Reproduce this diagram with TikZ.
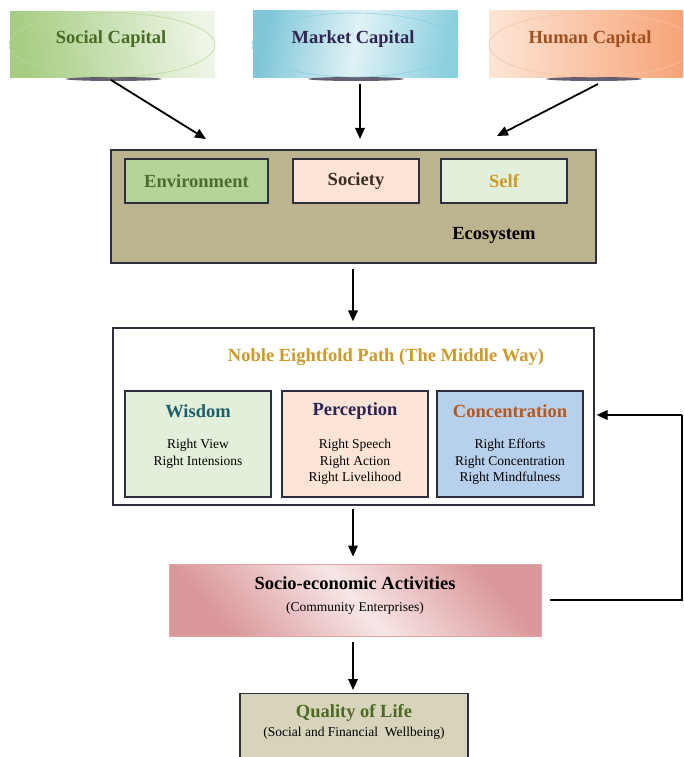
\documentclass[tikz,border=0pt]{standalone}
\usepackage{fontspec}
\setmainfont{Liberation Serif}
\usetikzlibrary{arrows.meta,shapes.geometric}
\definecolor{scA}{HTML}{A6CD82}\definecolor{scB}{HTML}{EEF5E6}\definecolor{scE}{HTML}{B9D99C}\definecolor{scT}{HTML}{4A6B25}
\definecolor{mcA}{HTML}{7EC6D8}\definecolor{mcB}{HTML}{E0F2F6}\definecolor{mcE}{HTML}{8CCFDF}\definecolor{mcT}{HTML}{2E2550}
\definecolor{hcA}{HTML}{FDE5D6}\definecolor{hcB}{HTML}{F6A072}\definecolor{hcE}{HTML}{F9C3A3}\definecolor{hcT}{HTML}{A0501F}
\definecolor{ecoF}{HTML}{BBB48F}\definecolor{envF}{HTML}{B5D49A}\definecolor{socF}{HTML}{FDE4D5}\definecolor{selfF}{HTML}{E2EFDA}
\definecolor{envT}{HTML}{4E6B2A}\definecolor{socT}{HTML}{3A2E25}\definecolor{gold}{HTML}{CC9A2A}
\definecolor{wisT}{HTML}{1D5E6B}\definecolor{perT}{HTML}{2D2456}\definecolor{conT}{HTML}{B4581E}
\definecolor{wisF}{HTML}{E2EFDA}\definecolor{perF}{HTML}{FCE4D6}\definecolor{conF}{HTML}{B7D0EC}
\definecolor{pinkD}{HTML}{DA979A}\definecolor{pinkL}{HTML}{F8E6E6}\definecolor{pinkE}{HTML}{E4A3A5}
\definecolor{qolF}{HTML}{D8D4BB}\definecolor{qolT}{HTML}{4C6A22}\definecolor{edge}{HTML}{2E2F3C}
\definecolor{shad}{HTML}{4A4458}
\tikzset{
  arr/.style={line width=1.8pt,-{Triangle[length=11pt,width=9.5pt]}},
  boxx/.style={draw=edge,line width=1.2pt,rectangle,inner sep=0pt},
  btitle/.style={font=\bfseries\fontsize{18.5}{20}\selectfont,inner sep=0pt},
  btxt/.style={font=\fontsize{13.5}{16.5}\selectfont,align=center,inner sep=0pt},
  topell/.style={ellipse,draw,line width=0.6pt,minimum width=206pt,minimum height=64pt,inner sep=0pt},
  shadowbar/.style={fill=shad,opacity=0.85}
}
\begin{document}
\begin{tikzpicture}[x=1pt,y=-1pt]
\useasboundingbox (0,0) rectangle (683,757);
\clip (0,0) rectangle (683,757);
% top capital boxes
\shade[left color=scA,right color=scB,shading angle=100] (10,12) rectangle (215,78);
\shade[left color=mcA,right color=mcE,middle color=mcB,shading angle=80] (253,11) rectangle (458,78);
\shade[left color=hcA,right color=hcB,shading angle=90] (489,11) rectangle (694,78);
\fill[shadowbar] (113.5,79) ellipse (48pt and 2pt);
\fill[shadowbar] (356,79) ellipse (48pt and 2pt);
\fill[shadowbar] (594,79) ellipse (48pt and 2pt);
\node[topell,draw=scE] (sc) at (112,45) {};
\node[topell,draw=mcE] (mc) at (355,45) {};
\node[topell,draw=hcE] (hc) at (592,45) {};
\node[btitle,text=scT] (scl) at (111,39) {Social Capital};
\node[btitle,text=mcT] (mcl) at (353,39) {Market Capital};
\node[btitle,text=hcT] (hcl) at (590,39) {Human Capital};
\coordinate (scS) at (111,80);
\coordinate (mcS) at (360,84);
\coordinate (hcS) at (598,84);
\coordinate (ar1) at (206,139);
\coordinate (ar2) at (360,139);
\coordinate (ar3) at (497,136);
% ecosystem
\node[boxx,fill=ecoF,minimum width=485pt,minimum height=113pt] (eco) at (353.5,206.5) {};
\node[boxx,fill=envF,minimum width=143pt,minimum height=44pt] (env) at (196.5,181) {};
\node[boxx,fill=socF,minimum width=126pt,minimum height=44pt] (soci) at (356,181) {};
\node[boxx,fill=selfF,minimum width=126pt,minimum height=44pt] (self) at (504,181) {};
\node[btitle,text=envT] at (env) {Environment};
\node[btitle,text=socT] at (soci) {Society};
\node[btitle,text=gold] at (self) {Self};
\node[btitle] (ecol) at (494,235) {Ecosystem};
% noble path
\node[boxx,fill=white,minimum width=481pt,minimum height=177pt] (noble) at (353.5,416.5) {};
\node[btitle,text=gold] (nobl) at (386,357) {Noble Eightfold Path (The Middle Way)};
\node[boxx,fill=wisF,minimum width=146pt,minimum height=106pt] (wis) at (198,444) {};
\node[boxx,fill=perF,minimum width=146pt,minimum height=106pt] (per) at (355,444) {};
\node[boxx,fill=conF,minimum width=146pt,minimum height=106pt] (con) at (510,444) {};
\node[btitle,text=wisT] (wisl) at (198,411) {Wisdom};
\node[btitle,text=perT] (perl) at (355,411) {Perception};
\node[btitle,text=conT] (conl) at (510,411) {Concentration};
\node[btxt,anchor=north] (wist) at (198,439) {Right View\\Right Intensions};
\node[btxt,anchor=north] (pert) at (355,439) {Right Speech\\Right Action\\Right Livelihood};
\node[btxt,anchor=north] (cont) at (510,439) {Right Efforts\\Right Concentration\\Right Mindfulness};
% socio-economic
\shade[top color=pinkD,bottom color=pinkD,middle color=pinkL,shading angle=-50] (169,564) rectangle (541,636);
\node[draw=pinkE,line width=0.8pt,minimum width=372pt,minimum height=72pt,inner sep=0pt] (sea) at (355,600) {};
\node[btitle] (seal) at (355,583) {Socio-economic Activities};
\node[btxt] (seat) at (355,608) {(Community Enterprises)};
% quality of life
\node[boxx,fill=qolF,minimum width=228pt,minimum height=72pt,anchor=north] (qol) at (354,693) {};
\node[btitle,text=qolT] (qoll) at (354,713) {Quality of Life};
\node[btxt] (qolt) at (354,733) {(Social and Financial\ \ Wellbeing)};
% connectors
\draw[arr] (scS) -- (ar1);
\draw[arr] (mcS) -- (ar2);
\draw[arr] (hcS) -- (ar3);
\draw[arr,shorten <=5pt,shorten >=6pt] (eco.south -| 353,0) -- (noble.north -| 353,0);
\draw[arr,shorten <=3pt,shorten >=7pt] (noble.south -| 353,0) -- (sea.north -| 353,0);
\draw[arr,shorten <=6pt,shorten >=3pt] (sea.south -| 353,0) -- (qol.north -| 353,0);
\coordinate (fb1) at (682,600);
\coordinate (fb2) at (682,415);
\draw[line width=1.8pt] ([xshift=9pt]sea.east) -- (fb1) -- (fb2);
\draw[arr,shorten >=2pt] (fb2) -- (noble.east |- fb2);
\end{tikzpicture}
\end{document}
